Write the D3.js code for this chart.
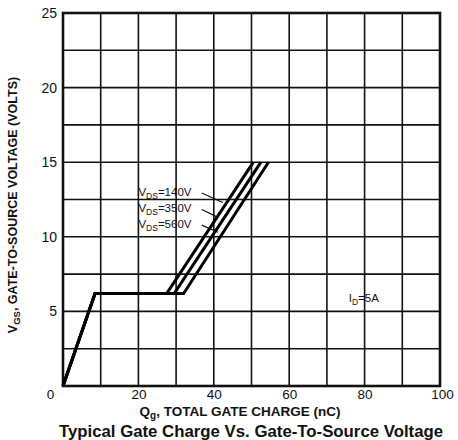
<!DOCTYPE html>
<html><head><meta charset="utf-8">
<script src="https://cdn.jsdelivr.net/npm/d3@7"></script>
<style>body{margin:0;background:#fff}svg{display:block}text{font-family:"Liberation Sans",Arial,sans-serif;fill:#111}</style>
</head><body><svg id="c" width="458" height="440"></svg>
<script>
const xTicks = [0, 20, 40, 60, 80, 100];
const yTicks = [5, 10, 15, 20, 25];
const xGrid = [10, 20, 30, 40, 50, 60, 70, 80, 90];
const yGrid = [2.5, 5, 7.5, 10, 12.5, 15, 17.5, 20, 22.5];
const seriesNames = ["140V", "350V", "560V"];
const qg140 = [0, 8.5, 27.5, 50.5];
const qg350 = [0, 8.5, 29.5, 52.5];
const qg560 = [0, 8.5, 32.0, 54.5];
const vgs = [0, 6.2, 6.2, 15];
const labelY = [13.0, 11.9, 10.85];
const leaderEnd = [[42.4, 12.3], [41.1, 11.3], [41.1, 10.3]];

const svg = d3.select("#c");
const L = 63, R = 440, T = 13, B = 386;
const x = d3.scaleLinear().domain([0, 100]).range([L, R]);
const y = d3.scaleLinear().domain([0, 25]).range([B, T]);

// grid
svg.append("g").selectAll("line").data(xGrid).join("line")
  .attr("x1", d => x(d)).attr("x2", d => x(d)).attr("y1", T).attr("y2", B)
  .attr("stroke", "#111").attr("stroke-width", 1.6);
svg.append("g").selectAll("line").data(yGrid).join("line")
  .attr("y1", d => y(d)).attr("y2", d => y(d)).attr("x1", L).attr("x2", R)
  .attr("stroke", "#111").attr("stroke-width", 1.6);
svg.append("rect").attr("x", L).attr("y", T).attr("width", R - L).attr("height", B - T)
  .attr("fill", "none").attr("stroke", "#111").attr("stroke-width", 2.6);

// axes
const xAxis = svg.append("g").attr("transform", `translate(0,${B})`)
  .call(d3.axisBottom(x).tickValues(xTicks).tickSize(0).tickPadding(3).tickFormat(d3.format("d")));
xAxis.select(".domain").remove();
xAxis.selectAll("text").attr("font-size", 13.5).attr("fill", "#111");
xAxis.selectAll(".tick").filter((d, i) => i === 0).select("text").attr("x", -13);
xAxis.selectAll(".tick").filter((d, i) => i === xTicks.length - 1).select("text").attr("x", 2);
const yAxis = svg.append("g").attr("transform", `translate(${L},0)`)
  .call(d3.axisLeft(y).tickValues(yTicks).tickSize(0).tickPadding(6).tickFormat(d3.format("d")));
yAxis.select(".domain").remove();
yAxis.selectAll("text").attr("font-size", 14).attr("fill", "#111");

// curves
const line = d3.line().x(d => x(d[0])).y(d => y(d[1]));
[qg140, qg350, qg560].forEach(q => {
  svg.append("path").datum(q.map((v, i) => [v, vgs[i]]))
    .attr("d", line).attr("fill", "none").attr("stroke", "#000")
    .attr("stroke-width", 3).attr("stroke-linejoin", "miter");
});

// labels
seriesNames.forEach((n, i) => {
  const t = svg.append("text").attr("x", x(20)).attr("y", y(labelY[i]) + 4).attr("font-size", 11.5);
  t.append("tspan").text("V");
  t.append("tspan").attr("font-size", 8.5).attr("dy", 3).text("DS");
  t.append("tspan").attr("dy", -3).text("=" + n);
  svg.append("line").attr("x1", x(36.8)).attr("y1", y(labelY[i]) + 1)
    .attr("x2", x(leaderEnd[i][0])).attr("y2", y(leaderEnd[i][1]))
    .attr("stroke", "#111").attr("stroke-width", 1.2);
});
const id = svg.append("text").attr("x", x(75.8)).attr("y", y(5.65)).attr("font-size", 11.5);
id.append("tspan").text("I");
id.append("tspan").attr("font-size", 8.5).attr("dy", 3).text("D");
id.append("tspan").attr("dy", -3).text("=5A");

// titles
const xt = svg.append("text").attr("x", 240).attr("y", 416).attr("text-anchor", "middle")
  .attr("font-size", 13.5).attr("font-weight", "bold");
xt.append("tspan").text("Q");
xt.append("tspan").attr("font-size", 10).attr("dy", 3).text("g");
xt.append("tspan").attr("dy", -3).text(", TOTAL GATE CHARGE (nC)");
const yt = svg.append("text").attr("transform", "translate(17,205) rotate(-90)").attr("text-anchor", "middle")
  .attr("font-size", 12.5).attr("font-weight", "bold");
yt.append("tspan").text("V");
yt.append("tspan").attr("font-size", 9.5).attr("dy", 3).text("GS");
yt.append("tspan").attr("dy", -3).text(", GATE-TO-SOURCE VOLTAGE (VOLTS)");
svg.append("text").attr("x", 251).attr("y", 437).attr("text-anchor", "middle")
  .attr("font-size", 16.8).attr("font-weight", "bold")
  .text("Typical Gate Charge Vs. Gate-To-Source Voltage");
</script></body></html>
